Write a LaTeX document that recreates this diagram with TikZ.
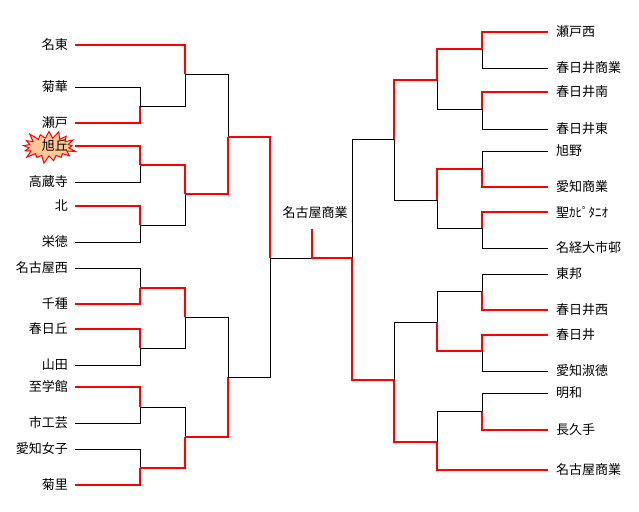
\documentclass[tikz,border=0pt]{standalone}
\usepackage{fontspec}
\setmainfont{Noto Sans CJK JP}
\usetikzlibrary{shapes.symbols}
\definecolor{burst}{RGB}{255,200,150}
\tikzset{
  rd/.style={draw=red,line width=2pt},
  bk/.style={draw=black,line width=1pt},
  lbl/.style={font=\fontsize{13}{14}\selectfont,inner sep=0pt},
}
\newcommand\mt[6]{%
  \coordinate (#5) at (#3,#4);
  \ifnum#6=1 \draw[bk] (#2) -| (#5); \draw[rd] (#1) -| (#5);
  \else \draw[bk] (#1) -| (#5); \draw[rd] (#2) -| (#5); \fi}
\begin{document}
\begin{tikzpicture}[x=1pt,y=-1pt]
\useasboundingbox (0,0) rectangle (639,511);
% left entries
\foreach \n/\y/\t in {1/45/名東,2/87/菊華,3/123/瀬戸,4/146/旭丘,5/182/高蔵寺,6/206/北,7/242/栄徳,8/268/名古屋西,9/304/千種,10/329/春日丘,11/365/山田,12/387/至学館,13/423/市工芸,14/449/愛知女子,15/485/菊里}{
  \coordinate (a\n) at (75,\y);
}
\node[starburst,starburst points=17,starburst point height=9pt,minimum width=58pt,minimum height=36pt,fill=burst,draw=red,line width=1pt] (burst) at (49,147) {};
\foreach \n/\y/\t in {1/45/名東,2/87/菊華,3/123/瀬戸,4/146/旭丘,5/182/高蔵寺,6/206/北,7/242/栄徳,8/268/名古屋西,9/304/千種,10/329/春日丘,11/365/山田,12/387/至学館,13/423/市工芸,14/449/愛知女子,15/485/菊里}{
  \node[lbl,anchor=east] (ln\n) at (68,\y) {\t};
}
% left matches
\mt{a2}{a3}{140}{106}{m1}{2}
\mt{a4}{a5}{140}{165}{m2}{1}
\mt{a6}{a7}{140}{225}{m3}{1}
\mt{a8}{a9}{140}{288}{m4}{2}
\mt{a10}{a11}{140}{348}{m5}{1}
\mt{a12}{a13}{140}{407}{m6}{1}
\mt{a14}{a15}{140}{468}{m7}{2}
\mt{a1}{m1}{185}{74}{n1}{1}
\mt{m2}{m3}{185}{194}{n2}{1}
\mt{m4}{m5}{185}{317}{n3}{1}
\mt{m6}{m7}{185}{437}{n4}{2}
\mt{n1}{n2}{228}{137}{q1}{2}
\mt{n3}{n4}{228}{377}{q2}{2}
\mt{q1}{q2}{270}{258}{SL}{1}
% right entries
\foreach \n/\y/\t in {1/32/瀬戸西,2/68/春日井商業,3/92/春日井南,4/129/春日井東,5/151/旭野,6/187/愛知商業,7/212/聖ｶﾋﾟﾀﾆｵ,8/248/名経大市邨,9/274/東邦,10/310/春日井西,11/335/春日井,12/371/愛知淑徳,13/393/明和,14/430/長久手,15/470/名古屋商業}{
  \coordinate (b\n) at (548,\y);
  \node[lbl,anchor=west] (rn\n) at (556,\y) {\t};
}
\mt{b1}{b2}{482}{49}{r1}{1}
\mt{b3}{b4}{482}{109}{r2}{1}
\mt{b5}{b6}{482}{169}{r3}{2}
\mt{b7}{b8}{482}{228}{r4}{1}
\mt{b9}{b10}{482}{291}{r5}{2}
\mt{b11}{b12}{482}{351}{r6}{1}
\mt{b13}{b14}{482}{411}{r7}{2}
\mt{r1}{r2}{437}{80}{s1}{1}
\mt{r3}{r4}{437}{200}{s2}{1}
\mt{r5}{r6}{437}{322}{s3}{2}
\mt{r7}{b15}{437}{442}{s4}{2}
\mt{s1}{s2}{394}{139}{t1}{1}
\mt{s3}{s4}{394}{380}{t2}{2}
\mt{t1}{t2}{352}{258}{SR}{2}
% final
\coordinate (F) at (312,258);
\coordinate (Ft) at (312,229);
\draw[bk] (SL) -- (F);
\draw[rd] (SR) -- (F) -- (Ft);
\node[lbl] (champ) at (315,213) {名古屋商業};
\end{tikzpicture}
\end{document}
